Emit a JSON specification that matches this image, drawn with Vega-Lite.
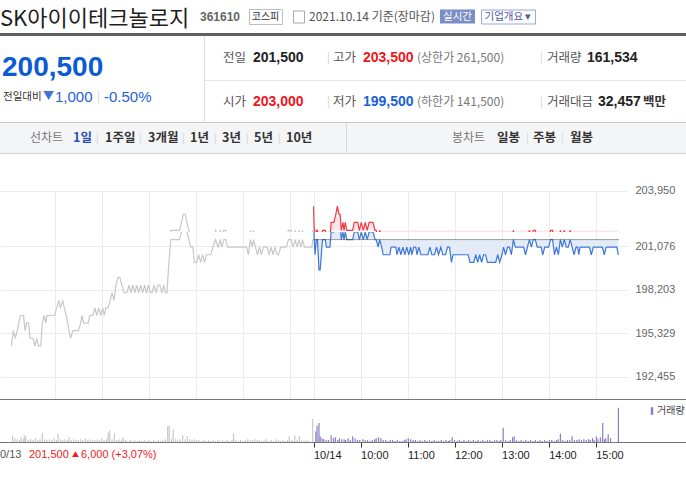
{
  "$schema": "https://vega.github.io/schema/vega-lite/v6.json",
  "padding": 0,
  "background": "white",
  "spacing": 0,
  "bounds": "full",
  "config": {
    "view": {"stroke": null},
    "text": {"align": "left", "baseline": "middle", "font": "Noto Sans CJK KR", "fontSize": 12, "color": "#333"},
    "axis": {"labelFont": "Liberation Sans"}
  },
  "resolve": {"scale": {"color": "independent"}, "legend": {"color": "independent"}},
  "datasets": {
    "p13": [
      {"t":-385.5,"p":194500},{"t":-383,"p":195500},{"t":-380.5,"p":195000},{"t":-378,"p":195500},{"t":-374,"p":196500},{"t":-370,"p":196500},{"t":-368,"p":195500},{"t":-366,"p":196000},{"t":-363.5,"p":196000},{"t":-361.5,"p":195000},{"t":-358,"p":195000},{"t":-355.5,"p":194500},{"t":-353,"p":195000},{"t":-351,"p":194500},{"t":-348,"p":194500},{"t":-346,"p":196000},{"t":-343.5,"p":196500},{"t":-341.5,"p":196000},{"t":-340,"p":196500},{"t":-330.5,"p":196500},{"t":-327.5,"p":197000},{"t":-325,"p":197500},{"t":-323,"p":197000},{"t":-320,"p":197500},{"t":-318,"p":197000},{"t":-315.5,"p":196500},{"t":-312,"p":195500},{"t":-310,"p":195000},{"t":-307,"p":195500},{"t":-300,"p":195500},{"t":-297,"p":196000},{"t":-295.5,"p":196500},{"t":-293,"p":196000},{"t":-287.5,"p":196000},{"t":-285.5,"p":196500},{"t":-281.5,"p":196500},{"t":-279,"p":197000},{"t":-276.5,"p":196500},{"t":-274,"p":197000},{"t":-271.5,"p":196500},{"t":-269,"p":197000},{"t":-267,"p":196500},{"t":-265,"p":197000},{"t":-262,"p":197000},{"t":-259.5,"p":197500},{"t":-257,"p":198000},{"t":-254.5,"p":197500},{"t":-252,"p":198500},{"t":-249.5,"p":199000},{"t":-247,"p":199000},{"t":-244.5,"p":198500},{"t":-242,"p":198000},{"t":-238,"p":198000},{"t":-235.5,"p":198500},{"t":-233,"p":198000},{"t":-230.5,"p":198500},{"t":-228,"p":198000},{"t":-225.5,"p":198500},{"t":-223,"p":198000},{"t":-220.5,"p":198500},{"t":-218,"p":198000},{"t":-215.5,"p":198500},{"t":-213,"p":198000},{"t":-210.5,"p":198500},{"t":-208,"p":198000},{"t":-206,"p":198000},{"t":-203.5,"p":198500},{"t":-201,"p":198000},{"t":-198.5,"p":198500},{"t":-196,"p":198500},{"t":-193.5,"p":198000},{"t":-191,"p":198500},{"t":-189,"p":198000},{"t":-187,"p":198000},{"t":-184.5,"p":200000},{"t":-182,"p":201500},{"t":-171,"p":201500},{"t":-168.5,"p":202000},{"t":-166,"p":202500},{"t":-163.5,"p":202500},{"t":-161.5,"p":202000},{"t":-159,"p":201500},{"t":-156.5,"p":201000},{"t":-154,"p":201000},{"t":-152,"p":200000},{"t":-149,"p":200000},{"t":-146.5,"p":200500},{"t":-144,"p":200000},{"t":-141.5,"p":200500},{"t":-139,"p":200000},{"t":-136.5,"p":200500},{"t":-131,"p":200500},{"t":-128.5,"p":201000},{"t":-125,"p":201500},{"t":-121.5,"p":201000},{"t":-119,"p":201500},{"t":-117,"p":201000},{"t":-114.5,"p":201500},{"t":-112,"p":201500},{"t":-109.5,"p":201000},{"t":-85.5,"p":201000},{"t":-83,"p":200500},{"t":-80.5,"p":201500},{"t":-78,"p":201000},{"t":-76.5,"p":201500},{"t":-74,"p":201000},{"t":-71.5,"p":200500},{"t":-69,"p":201000},{"t":-66.5,"p":200500},{"t":-64,"p":201000},{"t":-59,"p":201000},{"t":-56.5,"p":200500},{"t":-54,"p":201000},{"t":-51.5,"p":200500},{"t":-49,"p":201000},{"t":-46.5,"p":200500},{"t":-44.5,"p":200500},{"t":-42,"p":201000},{"t":-34.5,"p":201000},{"t":-32,"p":201500},{"t":-28.5,"p":201500},{"t":-26,"p":201000},{"t":-23.5,"p":201500},{"t":-21,"p":201000},{"t":-18.5,"p":201500},{"t":-16,"p":201000},{"t":-14,"p":201500},{"t":-11.5,"p":201000},{"t":-2,"p":201000},{"t":-1,"p":201500}
    ],
    "p14": [
      {"t":0,"p":203000},{"t":1,"p":201500},{"t":2,"p":200500},{"t":3.5,"p":201500},{"t":5,"p":201500},{"t":7,"p":199500},{"t":8.5,"p":199500},{"t":10,"p":200500},{"t":11.5,"p":201500},{"t":15,"p":201500},{"t":16.5,"p":201000},{"t":21,"p":201000},{"t":22.5,"p":202000},{"t":26,"p":202000},{"t":28.5,"p":202500},{"t":30.5,"p":203000},{"t":32.5,"p":202500},{"t":34,"p":202500},{"t":35.5,"p":201500},{"t":37.5,"p":202000},{"t":39,"p":201500},{"t":40.5,"p":202000},{"t":42.5,"p":201500},{"t":50,"p":201500},{"t":52,"p":202000},{"t":56.5,"p":202000},{"t":58.5,"p":201500},{"t":61,"p":202000},{"t":63.5,"p":201500},{"t":66,"p":202000},{"t":68.5,"p":201500},{"t":71,"p":202000},{"t":76,"p":202000},{"t":78.5,"p":201500},{"t":80,"p":201500},{"t":82.5,"p":201000},{"t":84.5,"p":201500},{"t":87,"p":201000},{"t":89,"p":200500},{"t":97.5,"p":200500},{"t":99,"p":201000},{"t":105,"p":201000},{"t":106.5,"p":200500},{"t":109,"p":201000},{"t":111.5,"p":200500},{"t":114,"p":201000},{"t":116.5,"p":200500},{"t":119,"p":201000},{"t":121.5,"p":200500},{"t":124,"p":201000},{"t":125.5,"p":200500},{"t":128,"p":201000},{"t":130.5,"p":201000},{"t":132,"p":200500},{"t":134.5,"p":201000},{"t":137,"p":200500},{"t":146,"p":200500},{"t":148.5,"p":201000},{"t":151,"p":200500},{"t":154.5,"p":200500},{"t":157,"p":201000},{"t":159.5,"p":200500},{"t":162.5,"p":201000},{"t":165,"p":200500},{"t":168.5,"p":200500},{"t":171,"p":201000},{"t":173.5,"p":201000},{"t":176,"p":200000},{"t":178,"p":200500},{"t":197.5,"p":200500},{"t":199.5,"p":200000},{"t":204.5,"p":200000},{"t":207,"p":200500},{"t":209.5,"p":200000},{"t":212,"p":200500},{"t":214.5,"p":200000},{"t":217,"p":200500},{"t":219.5,"p":200500},{"t":222,"p":200000},{"t":232.5,"p":200000},{"t":235,"p":200500},{"t":237.5,"p":200000},{"t":240.5,"p":200500},{"t":242.5,"p":201000},{"t":245,"p":200500},{"t":247.5,"p":201000},{"t":250,"p":201000},{"t":252.5,"p":200500},{"t":255,"p":201500},{"t":257.5,"p":201000},{"t":262,"p":201000},{"t":268,"p":201000},{"t":270.5,"p":200500},{"t":273,"p":201000},{"t":275.5,"p":201500},{"t":278,"p":201000},{"t":280.5,"p":201500},{"t":283,"p":201500},{"t":285.5,"p":201000},{"t":290.5,"p":201000},{"t":292.5,"p":200500},{"t":295,"p":201000},{"t":300,"p":201000},{"t":302.5,"p":201500},{"t":305,"p":201500},{"t":307.5,"p":200500},{"t":310,"p":201000},{"t":312.5,"p":200500},{"t":315,"p":201500},{"t":317.5,"p":201000},{"t":320,"p":201500},{"t":322.5,"p":201000},{"t":325,"p":201000},{"t":327.5,"p":201500},{"t":330,"p":201000},{"t":332.5,"p":200500},{"t":335,"p":201000},{"t":337,"p":201000},{"t":338.5,"p":200500},{"t":340,"p":201000},{"t":352,"p":201000},{"t":354.5,"p":200500},{"t":357,"p":201000},{"t":368.5,"p":201000},{"t":371,"p":200500},{"t":373.5,"p":201000},{"t":387,"p":201000},{"t":389,"p":200500}
    ],
    "v13": [
      {"t":-384,"v":1750},{"t":-381,"v":1000},{"t":-378,"v":750},{"t":-375,"v":500},{"t":-373,"v":1250},{"t":-370,"v":750},{"t":-369,"v":1750},{"t":-367,"v":1500},{"t":-364,"v":500},{"t":-361,"v":750},{"t":-358,"v":500},{"t":-355,"v":1000},{"t":-352,"v":500},{"t":-349,"v":750},{"t":-346,"v":2500},{"t":-343,"v":750},{"t":-340,"v":500},{"t":-337,"v":750},{"t":-334,"v":500},{"t":-331,"v":1000},{"t":-328,"v":500},{"t":-326,"v":2250},{"t":-323,"v":750},{"t":-320,"v":500},{"t":-317,"v":750},{"t":-314,"v":500},{"t":-312,"v":1250},{"t":-309,"v":500},{"t":-306,"v":750},{"t":-303,"v":500},{"t":-300,"v":500},{"t":-297,"v":750},{"t":-294,"v":500},{"t":-291,"v":1000},{"t":-288,"v":500},{"t":-285,"v":750},{"t":-282,"v":500},{"t":-279,"v":500},{"t":-276,"v":750},{"t":-273,"v":500},{"t":-270,"v":1000},{"t":-267,"v":500},{"t":-264,"v":750},{"t":-262,"v":2500},{"t":-260,"v":3000},{"t":-257,"v":750},{"t":-254,"v":2250},{"t":-251,"v":500},{"t":-248,"v":750},{"t":-245,"v":500},{"t":-243,"v":1250},{"t":-240,"v":500},{"t":-237,"v":250},{"t":-234,"v":500},{"t":-231,"v":250},{"t":-228,"v":500},{"t":-225,"v":250},{"t":-222,"v":500},{"t":-219,"v":250},{"t":-216,"v":500},{"t":-213,"v":250},{"t":-210,"v":500},{"t":-207,"v":250},{"t":-204,"v":500},{"t":-201,"v":250},{"t":-198,"v":500},{"t":-195,"v":250},{"t":-192,"v":500},{"t":-189,"v":750},{"t":-186,"v":4250},{"t":-184,"v":4250},{"t":-181,"v":750},{"t":-179,"v":3250},{"t":-176,"v":750},{"t":-173,"v":500},{"t":-170,"v":750},{"t":-167,"v":1750},{"t":-164,"v":750},{"t":-161,"v":1500},{"t":-158,"v":750},{"t":-155,"v":500},{"t":-152,"v":750},{"t":-149,"v":500},{"t":-146,"v":500},{"t":-143,"v":250},{"t":-140,"v":500},{"t":-137,"v":250},{"t":-134,"v":500},{"t":-131,"v":250},{"t":-128,"v":500},{"t":-125,"v":250},{"t":-122,"v":500},{"t":-119,"v":250},{"t":-116,"v":500},{"t":-113,"v":250},{"t":-110,"v":500},{"t":-107,"v":250},{"t":-104,"v":500},{"t":-102,"v":2250},{"t":-99,"v":500},{"t":-96,"v":250},{"t":-93,"v":500},{"t":-90,"v":250},{"t":-87,"v":500},{"t":-84,"v":750},{"t":-81,"v":500},{"t":-78,"v":500},{"t":-75,"v":750},{"t":-72,"v":500},{"t":-69,"v":500},{"t":-66,"v":250},{"t":-63,"v":500},{"t":-60,"v":750},{"t":-57,"v":250},{"t":-54,"v":500},{"t":-51,"v":250},{"t":-48,"v":750},{"t":-45,"v":500},{"t":-42,"v":250},{"t":-39,"v":500},{"t":-36,"v":250},{"t":-33,"v":500},{"t":-31,"v":1500},{"t":-28,"v":500},{"t":-26,"v":250},{"t":-24,"v":1750},{"t":-21,"v":500},{"t":-18,"v":1500},{"t":-15,"v":500},{"t":-12,"v":250},{"t":-9,"v":500},{"t":-6,"v":250},{"t":-1,"v":6000}
    ],
    "v14": [
      {"t":3,"v":2750},{"t":4.5,"v":4250},{"t":7,"v":5000},{"t":8.5,"v":1500},{"t":11,"v":1000},{"t":13,"v":750},{"t":16,"v":500},{"t":19,"v":500},{"t":22.5,"v":1750},{"t":25.5,"v":1000},{"t":28,"v":1250},{"t":31,"v":500},{"t":33,"v":1000},{"t":36,"v":750},{"t":39,"v":750},{"t":41,"v":500},{"t":44,"v":1000},{"t":47,"v":500},{"t":50,"v":1500},{"t":53,"v":1000},{"t":56,"v":500},{"t":59,"v":500},{"t":63,"v":750},{"t":66,"v":500},{"t":69,"v":500},{"t":72,"v":250},{"t":75,"v":500},{"t":78,"v":750},{"t":80,"v":1000},{"t":83,"v":1250},{"t":86,"v":1000},{"t":89,"v":500},{"t":92,"v":500},{"t":95,"v":250},{"t":98,"v":500},{"t":101,"v":500},{"t":104,"v":250},{"t":107,"v":500},{"t":110,"v":250},{"t":113,"v":250},{"t":116,"v":500},{"t":118,"v":750},{"t":121,"v":1000},{"t":124,"v":750},{"t":127,"v":500},{"t":130,"v":500},{"t":133,"v":250},{"t":136,"v":500},{"t":139,"v":250},{"t":142,"v":500},{"t":145,"v":250},{"t":148,"v":500},{"t":151,"v":250},{"t":154,"v":500},{"t":157,"v":250},{"t":160,"v":250},{"t":163,"v":500},{"t":166,"v":250},{"t":169,"v":500},{"t":172,"v":250},{"t":174,"v":500},{"t":177,"v":1250},{"t":180,"v":500},{"t":183,"v":250},{"t":186,"v":500},{"t":189,"v":250},{"t":192,"v":500},{"t":195,"v":250},{"t":198,"v":500},{"t":201,"v":250},{"t":204,"v":500},{"t":207,"v":250},{"t":210,"v":500},{"t":213,"v":250},{"t":216,"v":500},{"t":219,"v":250},{"t":222,"v":500},{"t":225,"v":500},{"t":228,"v":250},{"t":231,"v":500},{"t":234,"v":500},{"t":237,"v":250},{"t":239,"v":500},{"t":242,"v":3750},{"t":245,"v":500},{"t":248,"v":250},{"t":251,"v":500},{"t":254,"v":1250},{"t":256,"v":1500},{"t":259,"v":500},{"t":262,"v":250},{"t":265,"v":500},{"t":268,"v":250},{"t":271,"v":500},{"t":274,"v":250},{"t":277,"v":500},{"t":280,"v":250},{"t":283,"v":500},{"t":286,"v":250},{"t":289,"v":500},{"t":292,"v":250},{"t":295,"v":500},{"t":298,"v":250},{"t":301,"v":500},{"t":304,"v":500},{"t":307,"v":250},{"t":310,"v":500},{"t":312,"v":750},{"t":315,"v":2250},{"t":318,"v":500},{"t":321,"v":250},{"t":324,"v":500},{"t":327,"v":500},{"t":330,"v":1500},{"t":333,"v":500},{"t":336,"v":500},{"t":339,"v":750},{"t":342,"v":500},{"t":345,"v":750},{"t":348,"v":500},{"t":351,"v":750},{"t":353,"v":500},{"t":356,"v":1000},{"t":358,"v":500},{"t":361,"v":1500},{"t":363,"v":750},{"t":366,"v":1250},{"t":369,"v":5000},{"t":371,"v":750},{"t":373,"v":1000},{"t":376,"v":2000},{"t":379,"v":1000},{"t":389,"v":9000}
    ]
  },
  "vconcat": [
    {"hconcat": [
      {"width":200,"height":33,"data":{"values":[{"s":"SK아이이테크놀로지"}]},"mark":{"type":"text","fontSize":22,"baseline":"line-top","lineHeight":5,"color":"#1e1e1e"},"encoding":{"text":{"field":"s"},"x":{"field":"s","type":"nominal","bandPosition":0,"scale":{"type":"band","paddingInner":0,"paddingOuter":0},"axis":null}}},
      {"width":49,"height":33,"data":{"values":[{"s":"361610"}]},"mark":{"type":"text","font":"Liberation Sans","fontSize":12,"fontWeight":"bold","color":"#666"},"encoding":{"text":{"field":"s"},"x":{"field":"s","type":"nominal","bandPosition":0,"scale":{"type":"band","paddingInner":0,"paddingOuter":0},"axis":null}}},
      {"width":33,"height":15,"view":{"stroke":"#bdbdbd","fill":"#ffffff"},"data":{"values":[{"s":"코스피"}]},"mark":{"type":"text","align":"center","fontSize":10,"color":"#333"},"encoding":{"text":{"field":"s"}}},
      {"width":11,"height":1,"data":{"values":[]},"mark":"text"},
      {"width":11,"height":12,"view":{"stroke":"#aaaaaa"},"data":{"values":[]},"mark":"text"},
      {"width":5,"height":1,"data":{"values":[]},"mark":"text"},
      {"width":131,"height":33,"data":{"values":[{"s":"2021.10.14 기준(장마감)"}]},"mark":{"type":"text","fontSize":12,"color":"#555"},"encoding":{"text":{"field":"s"},"x":{"field":"s","type":"nominal","bandPosition":0,"scale":{"type":"band","paddingInner":0,"paddingOuter":0},"axis":null}}},
      {"width":35,"height":14,"view":{"fill":"#7b8dc6"},"data":{"values":[{"s":"실시간"}]},"mark":{"type":"text","align":"center","fontSize":10.5,"color":"#ffffff"},"encoding":{"text":{"field":"s"}}},
      {"width":6,"height":1,"data":{"values":[]},"mark":"text"},
      {"width":54,"height":14,"view":{"stroke":"#9aa6d6","fill":"#ffffff"},"data":{"values":[{"s":"기업개요 ▾"}]},"mark":{"type":"text","align":"center","fontSize":10.5,"color":"#4b5b9b"},"encoding":{"text":{"field":"s"}}}
    ], "spacing": 0, "bounds": "flush", "center": true},
    {"width":686,"height":3,"view":{"fill":"#606060"},"data":{"values":[]},"mark":"text"},
    {"hconcat": [
      {"vconcat": [
        {"width":204,"height":16,"data":{"values":[]},"mark":"text"},
        {"hconcat": [
          {"width":2,"height":32,"data":{"values":[]},"mark":"text"},
          {"width":202,"height":32,"data":{"values":[{"s":"200,500"}]},"mark":{"type":"text","font":"Liberation Sans","fontSize":28,"fontWeight":"bold","color":"#0b5bd3"},"encoding":{"text":{"field":"s"},"x":{"field":"s","type":"nominal","bandPosition":0,"scale":{"type":"band","paddingInner":0,"paddingOuter":0},"axis":null}}}
        ], "spacing": 0, "bounds": "flush"},
        {"hconcat": [
          {"width":3,"height":25,"data":{"values":[]},"mark":"text"},
          {"width":40,"height":25,"data":{"values":[{"s":"전일대비"}]},"mark":{"type":"text","fontSize":10.5,"color":"#333"},"encoding":{"text":{"field":"s"},"x":{"field":"s","type":"nominal","bandPosition":0,"scale":{"type":"band","paddingInner":0,"paddingOuter":0},"axis":null}}},
          {"width":12,"height":25,"data":{"values":[{"s":"▼"}]},"mark":{"type":"text","fontSize":11,"color":"#3d74da"},"encoding":{"text":{"field":"s"},"x":{"field":"s","type":"nominal","bandPosition":0,"scale":{"type":"band","paddingInner":0,"paddingOuter":0},"axis":null}}},
          {"width":42,"height":25,"data":{"values":[{"s":"1,000"}]},"mark":{"type":"text","font":"Liberation Sans","fontSize":15,"color":"#1f5fd6"},"encoding":{"text":{"field":"s"},"x":{"field":"s","type":"nominal","bandPosition":0,"scale":{"type":"band","paddingInner":0,"paddingOuter":0},"axis":null}}},
          {"width":7,"height":25,"data":{"values":[{"s":"|"}]},"mark":{"type":"text","fontSize":11,"color":"#cccccc"},"encoding":{"text":{"field":"s"},"x":{"field":"s","type":"nominal","bandPosition":0,"scale":{"type":"band","paddingInner":0,"paddingOuter":0},"axis":null}}},
          {"width":100,"height":25,"data":{"values":[{"s":"-0.50%"}]},"mark":{"type":"text","font":"Liberation Sans","fontSize":15,"color":"#1f5fd6"},"encoding":{"text":{"field":"s"},"x":{"field":"s","type":"nominal","bandPosition":0,"scale":{"type":"band","paddingInner":0,"paddingOuter":0},"axis":null}}}
        ], "spacing": 0, "bounds": "flush"}
      ], "spacing": 0, "bounds": "full"},
      {"width":1,"height":86,"view":{"fill":"#dedede"},"data":{"values":[]},"mark":"text"},
      {"vconcat": [
        {"hconcat": [
          {"width":18,"height":44,"data":{"values":[]},"mark":"text"},
          {"width":30,"height":44,"data":{"values":[{"s":"전일"}]},"mark":{"type":"text","fontSize":12.5,"color":"#555"},"encoding":{"text":{"field":"s"},"x":{"field":"s","type":"nominal","bandPosition":0,"scale":{"type":"band","paddingInner":0,"paddingOuter":0},"axis":null}}},
          {"width":74,"height":44,"data":{"values":[{"s":"201,500"}]},"mark":{"type":"text","font":"Liberation Sans","fontSize":14,"fontWeight":"bold","color":"#222"},"encoding":{"text":{"field":"s"},"x":{"field":"s","type":"nominal","bandPosition":0,"scale":{"type":"band","paddingInner":0,"paddingOuter":0},"axis":null}}},
          {"width":6,"height":44,"data":{"values":[{"s":"|"}]},"mark":{"type":"text","fontSize":11,"color":"#cfcfcf"},"encoding":{"text":{"field":"s"},"x":{"field":"s","type":"nominal","bandPosition":0,"scale":{"type":"band","paddingInner":0,"paddingOuter":0},"axis":null}}},
          {"width":30,"height":44,"data":{"values":[{"s":"고가"}]},"mark":{"type":"text","fontSize":12.5,"color":"#555"},"encoding":{"text":{"field":"s"},"x":{"field":"s","type":"nominal","bandPosition":0,"scale":{"type":"band","paddingInner":0,"paddingOuter":0},"axis":null}}},
          {"width":54,"height":44,"data":{"values":[{"s":"203,500"}]},"mark":{"type":"text","font":"Liberation Sans","fontSize":14,"fontWeight":"bold","color":"#f0141c"},"encoding":{"text":{"field":"s"},"x":{"field":"s","type":"nominal","bandPosition":0,"scale":{"type":"band","paddingInner":0,"paddingOuter":0},"axis":null}}},
          {"width":123,"height":44,"data":{"values":[{"s":"(상한가 261,500)"}]},"mark":{"type":"text","fontSize":12,"color":"#777"},"encoding":{"text":{"field":"s"},"x":{"field":"s","type":"nominal","bandPosition":0,"scale":{"type":"band","paddingInner":0,"paddingOuter":0},"axis":null}}},
          {"width":7,"height":44,"data":{"values":[{"s":"|"}]},"mark":{"type":"text","fontSize":11,"color":"#cfcfcf"},"encoding":{"text":{"field":"s"},"x":{"field":"s","type":"nominal","bandPosition":0,"scale":{"type":"band","paddingInner":0,"paddingOuter":0},"axis":null}}},
          {"width":40,"height":44,"data":{"values":[{"s":"거래량"}]},"mark":{"type":"text","fontSize":12.5,"color":"#555"},"encoding":{"text":{"field":"s"},"x":{"field":"s","type":"nominal","bandPosition":0,"scale":{"type":"band","paddingInner":0,"paddingOuter":0},"axis":null}}},
          {"width":99,"height":44,"data":{"values":[{"s":"161,534"}]},"mark":{"type":"text","font":"Liberation Sans","fontSize":14,"fontWeight":"bold","color":"#222"},"encoding":{"text":{"field":"s"},"x":{"field":"s","type":"nominal","bandPosition":0,"scale":{"type":"band","paddingInner":0,"paddingOuter":0},"axis":null}}}
        ], "spacing": 0, "bounds": "flush"},
        {"width":481,"height":1,"view":{"fill":"#e6e6e6"},"data":{"values":[]},"mark":"text"},
        {"hconcat": [
          {"width":18,"height":41,"data":{"values":[]},"mark":"text"},
          {"width":30,"height":41,"data":{"values":[{"s":"시가"}]},"mark":{"type":"text","fontSize":12.5,"color":"#555"},"encoding":{"text":{"field":"s"},"x":{"field":"s","type":"nominal","bandPosition":0,"scale":{"type":"band","paddingInner":0,"paddingOuter":0},"axis":null}}},
          {"width":74,"height":41,"data":{"values":[{"s":"203,000"}]},"mark":{"type":"text","font":"Liberation Sans","fontSize":14,"fontWeight":"bold","color":"#f0141c"},"encoding":{"text":{"field":"s"},"x":{"field":"s","type":"nominal","bandPosition":0,"scale":{"type":"band","paddingInner":0,"paddingOuter":0},"axis":null}}},
          {"width":6,"height":41,"data":{"values":[{"s":"|"}]},"mark":{"type":"text","fontSize":11,"color":"#cfcfcf"},"encoding":{"text":{"field":"s"},"x":{"field":"s","type":"nominal","bandPosition":0,"scale":{"type":"band","paddingInner":0,"paddingOuter":0},"axis":null}}},
          {"width":30,"height":41,"data":{"values":[{"s":"저가"}]},"mark":{"type":"text","fontSize":12.5,"color":"#555"},"encoding":{"text":{"field":"s"},"x":{"field":"s","type":"nominal","bandPosition":0,"scale":{"type":"band","paddingInner":0,"paddingOuter":0},"axis":null}}},
          {"width":54,"height":41,"data":{"values":[{"s":"199,500"}]},"mark":{"type":"text","font":"Liberation Sans","fontSize":14,"fontWeight":"bold","color":"#1a5fd6"},"encoding":{"text":{"field":"s"},"x":{"field":"s","type":"nominal","bandPosition":0,"scale":{"type":"band","paddingInner":0,"paddingOuter":0},"axis":null}}},
          {"width":123,"height":41,"data":{"values":[{"s":"(하한가 141,500)"}]},"mark":{"type":"text","fontSize":12,"color":"#777"},"encoding":{"text":{"field":"s"},"x":{"field":"s","type":"nominal","bandPosition":0,"scale":{"type":"band","paddingInner":0,"paddingOuter":0},"axis":null}}},
          {"width":7,"height":41,"data":{"values":[{"s":"|"}]},"mark":{"type":"text","fontSize":11,"color":"#cfcfcf"},"encoding":{"text":{"field":"s"},"x":{"field":"s","type":"nominal","bandPosition":0,"scale":{"type":"band","paddingInner":0,"paddingOuter":0},"axis":null}}},
          {"width":51,"height":41,"data":{"values":[{"s":"거래대금"}]},"mark":{"type":"text","fontSize":12.5,"color":"#555"},"encoding":{"text":{"field":"s"},"x":{"field":"s","type":"nominal","bandPosition":0,"scale":{"type":"band","paddingInner":0,"paddingOuter":0},"axis":null}}},
          {"width":45,"height":41,"data":{"values":[{"s":"32,457"}]},"mark":{"type":"text","font":"Liberation Sans","fontSize":14,"fontWeight":"bold","color":"#222"},"encoding":{"text":{"field":"s"},"x":{"field":"s","type":"nominal","bandPosition":0,"scale":{"type":"band","paddingInner":0,"paddingOuter":0},"axis":null}}},
          {"width":43,"height":41,"data":{"values":[{"s":"백만"}]},"mark":{"type":"text","fontSize":12.5,"fontWeight":"bold","color":"#333"},"encoding":{"text":{"field":"s"},"x":{"field":"s","type":"nominal","bandPosition":0,"scale":{"type":"band","paddingInner":0,"paddingOuter":0},"axis":null}}}
        ], "spacing": 0, "bounds": "flush"}
      ], "spacing": 0, "bounds": "full"}
    ], "spacing": 0, "bounds": "full"},
    {"width":686,"height":1,"view":{"fill":"#c8c8c8"},"data":{"values":[]},"mark":"text"},
    {"hconcat": [
      {"width":30,"height":30,"view":{"fill":"#f4f5f7"},"data":{"values":[]},"mark":"text"},
      {"width":43,"height":30,"view":{"fill":"#f4f5f7"},"data":{"values":[{"s":"선차트"}]},"mark":{"type":"text","fontSize":12,"color":"#777"},"encoding":{"text":{"field":"s"},"x":{"field":"s","type":"nominal","bandPosition":0,"scale":{"type":"band","paddingInner":0,"paddingOuter":0},"axis":null}}},
      {"width":23,"height":30,"view":{"fill":"#f4f5f7"},"data":{"values":[{"s":"1일"}]},"mark":{"type":"text","fontSize":12.5,"fontWeight":"bold","color":"#2750b0"},"encoding":{"text":{"field":"s"},"x":{"field":"s","type":"nominal","bandPosition":0,"scale":{"type":"band","paddingInner":0,"paddingOuter":0},"axis":null}}},
      {"width":9,"height":30,"view":{"fill":"#f4f5f7"},"data":{"values":[{"s":"|"}]},"mark":{"type":"text","fontSize":10,"color":"#d0d0d0"},"encoding":{"text":{"field":"s"},"x":{"field":"s","type":"nominal","bandPosition":0,"scale":{"type":"band","paddingInner":0,"paddingOuter":0},"axis":null}}},
      {"width":34,"height":30,"view":{"fill":"#f4f5f7"},"data":{"values":[{"s":"1주일"}]},"mark":{"type":"text","fontSize":12.5,"fontWeight":"bold","color":"#333"},"encoding":{"text":{"field":"s"},"x":{"field":"s","type":"nominal","bandPosition":0,"scale":{"type":"band","paddingInner":0,"paddingOuter":0},"axis":null}}},
      {"width":9,"height":30,"view":{"fill":"#f4f5f7"},"data":{"values":[{"s":"|"}]},"mark":{"type":"text","fontSize":10,"color":"#d0d0d0"},"encoding":{"text":{"field":"s"},"x":{"field":"s","type":"nominal","bandPosition":0,"scale":{"type":"band","paddingInner":0,"paddingOuter":0},"axis":null}}},
      {"width":34,"height":30,"view":{"fill":"#f4f5f7"},"data":{"values":[{"s":"3개월"}]},"mark":{"type":"text","fontSize":12.5,"fontWeight":"bold","color":"#333"},"encoding":{"text":{"field":"s"},"x":{"field":"s","type":"nominal","bandPosition":0,"scale":{"type":"band","paddingInner":0,"paddingOuter":0},"axis":null}}},
      {"width":8,"height":30,"view":{"fill":"#f4f5f7"},"data":{"values":[{"s":"|"}]},"mark":{"type":"text","fontSize":10,"color":"#d0d0d0"},"encoding":{"text":{"field":"s"},"x":{"field":"s","type":"nominal","bandPosition":0,"scale":{"type":"band","paddingInner":0,"paddingOuter":0},"axis":null}}},
      {"width":24,"height":30,"view":{"fill":"#f4f5f7"},"data":{"values":[{"s":"1년"}]},"mark":{"type":"text","fontSize":12.5,"fontWeight":"bold","color":"#333"},"encoding":{"text":{"field":"s"},"x":{"field":"s","type":"nominal","bandPosition":0,"scale":{"type":"band","paddingInner":0,"paddingOuter":0},"axis":null}}},
      {"width":8,"height":30,"view":{"fill":"#f4f5f7"},"data":{"values":[{"s":"|"}]},"mark":{"type":"text","fontSize":10,"color":"#d0d0d0"},"encoding":{"text":{"field":"s"},"x":{"field":"s","type":"nominal","bandPosition":0,"scale":{"type":"band","paddingInner":0,"paddingOuter":0},"axis":null}}},
      {"width":24,"height":30,"view":{"fill":"#f4f5f7"},"data":{"values":[{"s":"3년"}]},"mark":{"type":"text","fontSize":12.5,"fontWeight":"bold","color":"#333"},"encoding":{"text":{"field":"s"},"x":{"field":"s","type":"nominal","bandPosition":0,"scale":{"type":"band","paddingInner":0,"paddingOuter":0},"axis":null}}},
      {"width":8,"height":30,"view":{"fill":"#f4f5f7"},"data":{"values":[{"s":"|"}]},"mark":{"type":"text","fontSize":10,"color":"#d0d0d0"},"encoding":{"text":{"field":"s"},"x":{"field":"s","type":"nominal","bandPosition":0,"scale":{"type":"band","paddingInner":0,"paddingOuter":0},"axis":null}}},
      {"width":24,"height":30,"view":{"fill":"#f4f5f7"},"data":{"values":[{"s":"5년"}]},"mark":{"type":"text","fontSize":12.5,"fontWeight":"bold","color":"#333"},"encoding":{"text":{"field":"s"},"x":{"field":"s","type":"nominal","bandPosition":0,"scale":{"type":"band","paddingInner":0,"paddingOuter":0},"axis":null}}},
      {"width":8,"height":30,"view":{"fill":"#f4f5f7"},"data":{"values":[{"s":"|"}]},"mark":{"type":"text","fontSize":10,"color":"#d0d0d0"},"encoding":{"text":{"field":"s"},"x":{"field":"s","type":"nominal","bandPosition":0,"scale":{"type":"band","paddingInner":0,"paddingOuter":0},"axis":null}}},
      {"width":60,"height":30,"view":{"fill":"#f4f5f7"},"data":{"values":[{"s":"10년"}]},"mark":{"type":"text","fontSize":12.5,"fontWeight":"bold","color":"#333"},"encoding":{"text":{"field":"s"},"x":{"field":"s","type":"nominal","bandPosition":0,"scale":{"type":"band","paddingInner":0,"paddingOuter":0},"axis":null}}},
      {"width":1,"height":30,"view":{"fill":"#d6d6d6"},"data":{"values":[]},"mark":"text"},
      {"width":105,"height":30,"view":{"fill":"#f4f5f7"},"data":{"values":[]},"mark":"text"},
      {"width":45,"height":30,"view":{"fill":"#f4f5f7"},"data":{"values":[{"s":"봉차트"}]},"mark":{"type":"text","fontSize":12,"color":"#777"},"encoding":{"text":{"field":"s"},"x":{"field":"s","type":"nominal","bandPosition":0,"scale":{"type":"band","paddingInner":0,"paddingOuter":0},"axis":null}}},
      {"width":29,"height":30,"view":{"fill":"#f4f5f7"},"data":{"values":[{"s":"일봉"}]},"mark":{"type":"text","fontSize":12.5,"fontWeight":"bold","color":"#333"},"encoding":{"text":{"field":"s"},"x":{"field":"s","type":"nominal","bandPosition":0,"scale":{"type":"band","paddingInner":0,"paddingOuter":0},"axis":null}}},
      {"width":7,"height":30,"view":{"fill":"#f4f5f7"},"data":{"values":[{"s":"|"}]},"mark":{"type":"text","fontSize":10,"color":"#d0d0d0"},"encoding":{"text":{"field":"s"},"x":{"field":"s","type":"nominal","bandPosition":0,"scale":{"type":"band","paddingInner":0,"paddingOuter":0},"axis":null}}},
      {"width":28,"height":30,"view":{"fill":"#f4f5f7"},"data":{"values":[{"s":"주봉"}]},"mark":{"type":"text","fontSize":12.5,"fontWeight":"bold","color":"#333"},"encoding":{"text":{"field":"s"},"x":{"field":"s","type":"nominal","bandPosition":0,"scale":{"type":"band","paddingInner":0,"paddingOuter":0},"axis":null}}},
      {"width":9,"height":30,"view":{"fill":"#f4f5f7"},"data":{"values":[{"s":"|"}]},"mark":{"type":"text","fontSize":10,"color":"#d0d0d0"},"encoding":{"text":{"field":"s"},"x":{"field":"s","type":"nominal","bandPosition":0,"scale":{"type":"band","paddingInner":0,"paddingOuter":0},"axis":null}}},
      {"width":116,"height":30,"view":{"fill":"#f4f5f7"},"data":{"values":[{"s":"월봉"}]},"mark":{"type":"text","fontSize":12.5,"fontWeight":"bold","color":"#333"},"encoding":{"text":{"field":"s"},"x":{"field":"s","type":"nominal","bandPosition":0,"scale":{"type":"band","paddingInner":0,"paddingOuter":0},"axis":null}}}
    ], "spacing": 0, "bounds": "flush"},
    {"width":686,"height":1,"view":{"fill":"#d3d3d3"},"data":{"values":[]},"mark":"text"},
    {"vconcat": [
      {"width":686,"height":36,"data":{"values":[]},"mark":"text"},
      {"width":627,"height":42,"layer":[
        {"data":{"name":"p13"},"mark":{"type":"line","color":"#c8c8cc","strokeWidth":1.2,"clip":true},
         "encoding":{
           "x":{"field":"t","type":"quantitative","scale":{"domain":[-385.5,390]},"axis":{"values":[-330,-270,-210,-150,-90,-30,0,60,120,180,240,300,360],"grid":true,"gridColor":"#ebebeb","labels":false,"ticks":false,"domain":false,"title":null}},
           "y":{"field":"p","type":"quantitative","scale":{"domain":[201500,203950]},"axis":{"orient":"right","values":[203950],"format":",.0f","grid":true,"gridColor":"#ebebeb","domain":false,"ticks":false,"labelPadding":8,"labelFontSize":11,"labelColor":"#666","title":null}}}},
        {"data":{"name":"p14"},"mark":{"type":"area","color":"#fde6e9","clip":true},"encoding":{"x":{"field":"t","type":"quantitative"},"y":{"field":"p","type":"quantitative"},"y2":{"datum":201500}}},
        {"data":{"name":"p14"},"mark":{"type":"line","color":"#ee3b43","strokeWidth":1.2,"clip":true},"encoding":{"x":{"field":"t","type":"quantitative"},"y":{"field":"p","type":"quantitative"}}}
      ]},
      {"width":627,"height":167,"layer":[
        {"data":{"name":"p13"},"mark":{"type":"line","color":"#c8c8cc","strokeWidth":1.2,"clip":true},
         "encoding":{
           "x":{"field":"t","type":"quantitative","scale":{"domain":[-385.5,390]},"axis":{"values":[-330,-270,-210,-150,-90,-30,0,60,120,180,240,300,360],"grid":true,"gridColor":"#ebebeb","labels":false,"ticks":false,"domain":false,"title":null}},
           "y":{"field":"p","type":"quantitative","scale":{"domain":[191868,201500]},"axis":{"orient":"right","values":[201076.25,198202.5,195328.75,192455],"format":",.0f","grid":true,"gridColor":"#ebebeb","domain":false,"ticks":false,"labelPadding":8,"labelFontSize":11,"labelColor":"#666","title":null}}}},
        {"data":{"name":"p14"},"mark":{"type":"area","color":"#e3ebf8","clip":true},"encoding":{"x":{"field":"t","type":"quantitative"},"y":{"field":"p","type":"quantitative"},"y2":{"datum":201500}}},
        {"data":{"name":"p14"},"mark":{"type":"line","color":"#3d78d8","strokeWidth":1.2,"clip":true},"encoding":{"x":{"field":"t","type":"quantitative"},"y":{"field":"p","type":"quantitative"}}},
        {"data":{"values":[{}]},"mark":{"type":"rule","color":"#444444","strokeDash":[1,1],"strokeWidth":1},"encoding":{"x":{"datum":0},"x2":{"datum":390},"y":{"datum":201500}}}
      ]},
      {"width":686,"height":1,"view":{"fill":"#777777"},"data":{"values":[]},"mark":"text"},
      {"width":627,"height":42,"layer":[
        {"data":{"name":"v13"},"mark":{"type":"bar","color":"#c8c8cc","size":1.2,"orient":"vertical"},
         "encoding":{
           "x":{"field":"t","type":"quantitative","scale":{"domain":[-385.5,390]},"axis":{"values":[0,60,120,180,240,300,360],"labelExpr":"datum.value == 0 ? '10/14' : (9 + datum.value / 60) + ':00'","grid":false,"domain":false,"ticks":true,"tickSize":5,"tickColor":"#333","labelAlign":"left","labelFlush":false,"labelOverlap":false,"labelPadding":2,"labelFontSize":11,"labelColor":"#222","title":null}},
           "y":{"field":"v","type":"quantitative","scale":{"domain":[0,10500]},"axis":null}}},
        {"data":{"name":"v14"},"mark":{"type":"bar","size":1.2,"orient":"vertical"},
         "encoding":{
           "x":{"field":"t","type":"quantitative"},
           "y":{"field":"v","type":"quantitative"},
           "color":{"datum":"거래량","type":"nominal","scale":{"range":["#8e7cc3"]},"legend":{"title":null,"orient":"right","offset":14,"padding":6,"symbolType":"M-0.33,-1H0.33V1H-0.33Z","symbolSize":56,"symbolStrokeWidth":0,"labelFontSize":10,"labelColor":"#444","labelFont":"Noto Sans CJK KR","labelOffset":0}}}}
      ]},
      {"width":686,"height":1,"view":{"fill":"#777777"},"data":{"values":[]},"mark":"text"},
      {"hconcat": [
        {"width":29,"height":24,"data":{"values":[{"s":"0/13"}]},"mark":{"type":"text","font":"Liberation Sans","fontSize":11,"color":"#555"},"encoding":{"text":{"field":"s"},"x":{"field":"s","type":"nominal","bandPosition":0,"scale":{"type":"band","paddingInner":0,"paddingOuter":0},"axis":null}}},
        {"width":43,"height":24,"data":{"values":[{"s":"201,500"}]},"mark":{"type":"text","font":"Liberation Sans","fontSize":11,"color":"#f01c24"},"encoding":{"text":{"field":"s"},"x":{"field":"s","type":"nominal","bandPosition":0,"scale":{"type":"band","paddingInner":0,"paddingOuter":0},"axis":null}}},
        {"width":9,"height":24,"data":{"values":[{"s":"▲"}]},"mark":{"type":"text","fontSize":7,"color":"#f01c24"},"encoding":{"text":{"field":"s"},"x":{"field":"s","type":"nominal","bandPosition":0,"scale":{"type":"band","paddingInner":0,"paddingOuter":0},"axis":null}}},
        {"width":150,"height":24,"data":{"values":[{"s":"6,000 (+3,07%)"}]},"mark":{"type":"text","font":"Liberation Sans","fontSize":11,"color":"#f01c24"},"encoding":{"text":{"field":"s"},"x":{"field":"s","type":"nominal","bandPosition":0,"scale":{"type":"band","paddingInner":0,"paddingOuter":0},"axis":null}}}
      ], "spacing": 0, "bounds": "flush"}
    ], "spacing": 0, "bounds": "flush", "resolve": {"scale": {"color": "independent"}, "legend": {"color": "independent"}}}
  ]
}
